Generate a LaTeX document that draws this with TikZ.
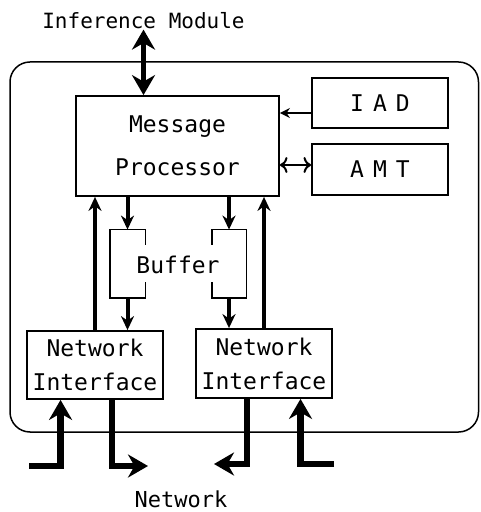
\documentclass[tikz,border=0pt]{standalone}
\usepackage{fontspec}
\newfontfamily\dmono{DejaVu Sans Mono}
\usetikzlibrary{arrows.meta, calc}

\tikzset{
  unit/.style={draw, line width=0.9pt, align=center, inner sep=0pt,
               font=\dmono\fontsize{11.5}{17}\selectfont},
  link/.style={line width=2pt, -{Stealth[length=7pt, width=6.5pt]}},
  sidelink/.style={line width=1pt, -{Stealth[length=5pt, width=5pt]}},
  bigarrow/.style={line width=2.6pt, {Stealth[length=10pt, width=11.5pt]}-{Stealth[length=10pt, width=11.5pt]}},
  netarrow/.style={line width=3.2pt, -{Stealth[length=10pt, width=11.5pt]}},
}

\begin{document}
\begin{tikzpicture}[x=0.5pt, y=-0.5pt]
  \useasboundingbox (0,0) rectangle (480,512);

  % outer frame
  \draw[line width=0.75pt, rounded corners=10pt] (10,62) rectangle (478.5,432);

  % units
  \node[unit, minimum width=101.5pt, minimum height=50pt,
        font=\dmono\fontsize{11.5}{21.5}\selectfont] (mp) at (177.5,146) {Message\\Processor};
  \node[unit, minimum width=68pt, minimum height=25pt] (iad) at (380,103) {I\hspace{4.5pt}A\hspace{4.5pt}D};
  \node[unit, minimum width=68pt, minimum height=25.5pt] (amt) at (380,169.5) {A\hspace{4.5pt}M\hspace{4.5pt}T};
  \node[unit, minimum width=68pt, minimum height=34pt] (nia) at (95,365) {Network\\Interface};
  \node[unit, minimum width=68pt, minimum height=34.5pt] (nib) at (264,363.5) {Network\\Interface};

  % buffer
  \node[minimum width=17.5pt, minimum height=34pt, inner sep=0pt] (bufa) at (127.5,264) {};
  \node[minimum width=17pt, minimum height=34pt, inner sep=0pt] (bufb) at (229,264) {};
  \node[font=\dmono\fontsize{11.5}{17}\selectfont] (buf) at (178,265) {Buffer};
  \draw[line width=0.9pt] ($(bufa.north east)+(0,15)$) -- (bufa.north east) -- (bufa.north west)
    -- (bufa.south west) -- (bufa.south east) -- ++(0,-16);
  \draw[line width=0.9pt] ($(bufb.north west)+(0,15)$) -- (bufb.north west) -- (bufb.north east)
    -- (bufb.south east) -- (bufb.south west) -- ++(0,-16);

  % inner arrows
  \draw[link] (mp.south -| bufa) -- (bufa.north);
  \draw[link] (mp.south -| bufb) -- (bufb.north);
  \draw[link] (bufa.south) -- (bufa.south |- nia.north);
  \draw[link] (bufb.south) -- (bufb.south |- nib.north);
  \draw[link] (nia.north) -- (nia.north |- mp.south);
  \draw[link] (nib.north) -- (nib.north |- mp.south);
  \draw[sidelink] ($(iad.west)+(0,10)$) -- ($(iad.west -| mp.east)+(0,10)$);
  \draw[sidelink, <->] ($(amt.west)+(0,-4.5)$) -- ($(amt.west -| mp.east)+(0,-4.5)$);

  % inference module
  \node[font=\dmono\fontsize{10.5}{12}\selectfont, inner sep=0pt] (im) at (143.5,21) {Inference Module};
  \draw[bigarrow] (im.south) -- (im.south |- mp.north);

  % network
  \coordinate (ina) at (29,466);
  \coordinate (outa) at (148,466);
  \coordinate (outb) at (214,464);
  \coordinate (inb) at (334,464);
  \draw[netarrow] (ina) -| ($(nia.south west)!0.25!(nia.south east)$);
  \draw[netarrow] ($(nia.south west)!0.625!(nia.south east)$) |- (outa);
  \draw[netarrow] ($(nib.south west)!0.375!(nib.south east)$) |- (outb);
  \draw[netarrow] (inb) -| ($(nib.south west)!0.765!(nib.south east)$);
  \node[font=\dmono\fontsize{11}{13}\selectfont] (netlabel) at (181,499) {Network};
\end{tikzpicture}
\end{document}
